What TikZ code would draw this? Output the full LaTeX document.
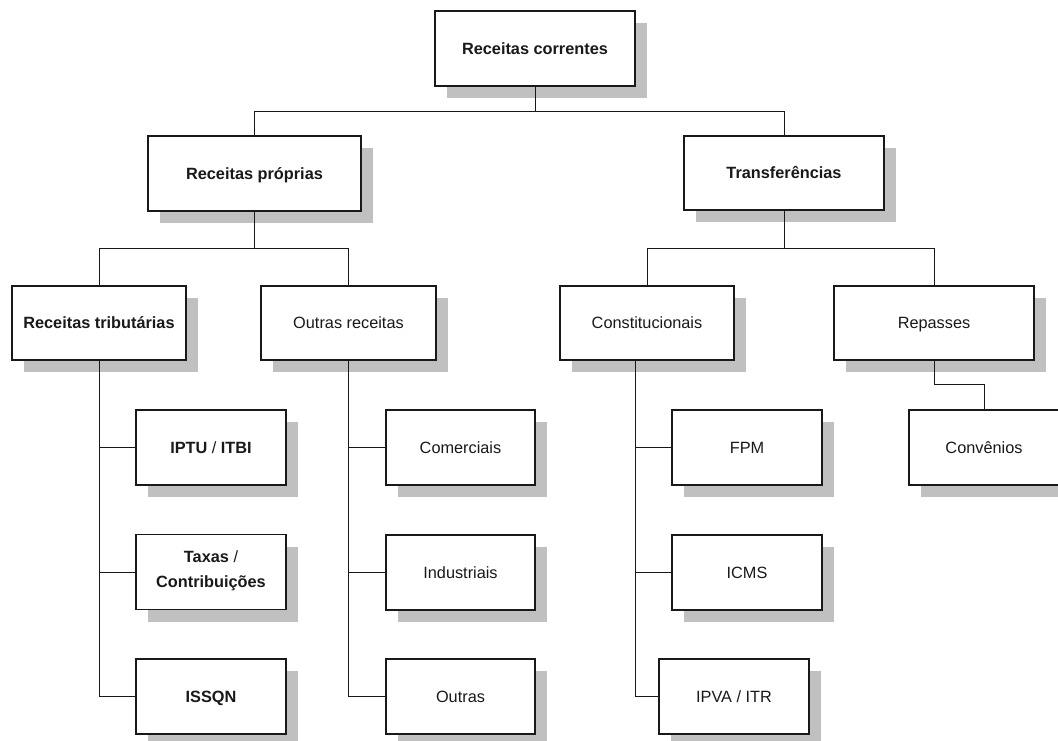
\documentclass[tikz,border=0pt]{standalone}
\usepackage{fontspec}
\setmainfont{Liberation Sans}
\usetikzlibrary{shadows}
\definecolor{shadowgray}{RGB}{192,192,192}
\definecolor{ink}{RGB}{25,25,25}
\begin{document}
\begin{tikzpicture}[x=1pt,y=-1pt,
  box/.style={draw=ink, fill=white, line width=1.3pt, rectangle, inner sep=0pt,
    align=center, text=ink, font=\fontsize{16.3}{25.7}\selectfont,
    text height=11.7pt, text depth=0pt,
    drop shadow={shadow xshift=12pt, shadow yshift=-12pt, fill=shadowgray, opacity=1}},
  leaf/.style={box, minimum width=150pt, minimum height=75pt},
  mid/.style={box, minimum width=174pt, minimum height=74pt},
  conn/.style={draw=ink, line width=1pt},
]
\useasboundingbox (0,0) rectangle (1058,740);

% top levels
\node[box, minimum width=200pt, minimum height=75pt] (rc) at (535,48.5) {\textbf{Receitas correntes}};
\node[box, minimum width=213pt, minimum height=75pt] (rp) at (254.5,173.5) {\textbf{Receitas próprias}};
\node[box, minimum width=200pt, minimum height=74pt] (tr) at (784,173) {\textbf{Transferências}};

% second level
\node[mid] (trib) at (99,323) {\textbf{Receitas tributárias}};
\node[mid, minimum width=175pt] (outr) at (348.5,323) {Outras receitas};
\node[mid] (const) at (647,323) {Constitucionais};
\node[mid, minimum width=200pt] (rep) at (934,323) {Repasses};

% leaves
\node[leaf] (iptu) at (211,447.5) {\textbf{IPTU} / \textbf{ITBI}};
\node[leaf, text height=37.4pt, text depth=6pt] (taxas) at (211,572) {\textbf{Taxas} /\\\textbf{Contribuições}};
\node[leaf] (issqn) at (211,696.5) {\textbf{ISSQN}};

\node[leaf, minimum width=149pt] (com) at (460.5,447.5) {Comerciais};
\node[leaf, minimum width=149pt] (ind) at (460.5,572.5) {Industriais};
\node[leaf, minimum width=149pt] (out) at (460.5,696.5) {Outras};

\node[leaf] (fpm) at (747,447.5) {FPM};
\node[leaf] (icms) at (747,572.5) {ICMS};
\node[leaf] (ipva) at (734,696.5) {IPVA / ITR};

\node[leaf] (conv) at (984,447.5) {Convênios};

% connectors
\draw[conn] (rc.south) -- ++(0,25) -| (rp.north);
\draw[conn] (rc.south) -- ++(0,25) -| (tr.north);

\draw[conn] (rp.south) -- ++(0,37) -| (trib.north);
\draw[conn] (rp.south) -- ++(0,37) -| (outr.north);
\draw[conn] (tr.south) -- ++(0,38) -| (const.north);
\draw[conn] (tr.south) -- ++(0,38) -| (rep.north);

\draw[conn] (trib.south) |- (iptu.west);
\draw[conn] (trib.south) |- (taxas.west);
\draw[conn] (trib.south) |- (issqn.west);

\draw[conn] (outr.south) |- (com.west);
\draw[conn] (outr.south) |- (ind.west);
\draw[conn] (outr.south) |- (out.west);

\coordinate (cs) at (635,360);
\draw[conn] (cs) |- (fpm.west);
\draw[conn] (cs) |- (icms.west);
\draw[conn] (cs) |- (ipva.west);

\draw[conn] (rep.south) -- ++(0,24) -| (conv.north);
\end{tikzpicture}
\end{document}
